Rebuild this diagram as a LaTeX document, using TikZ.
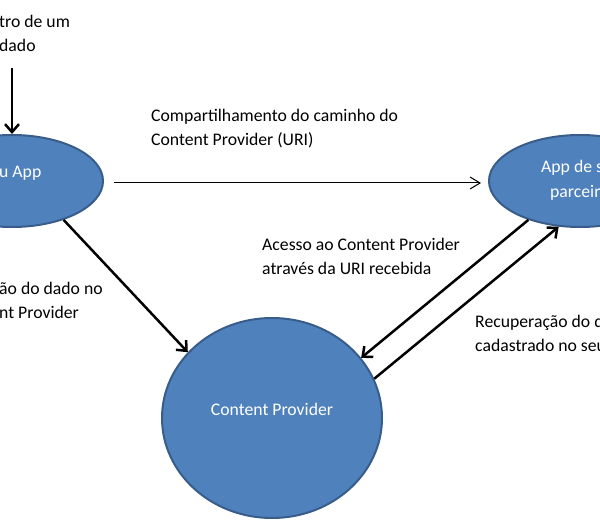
\documentclass[tikz,border=0pt]{standalone}
\usepackage{fontspec}
\setmainfont{Carlito}
\usetikzlibrary{shapes.geometric,arrows.meta}
\definecolor{azul}{HTML}{4F81BD}
\definecolor{bordaazul}{HTML}{385D8A}
\begin{document}
\begin{tikzpicture}[x=1pt, y=-1pt,
    bolha/.style={ellipse, draw=bordaazul, line width=2pt, fill=azul, inner sep=0pt},
    texto/.style={anchor=base west, inner sep=0pt, align=left, font=\fontsize{17.7}{24}\selectfont},
    seta/.style={line width=2.5pt, -{Straight Barb[length=8pt, width=14pt]}},
    setafina/.style={line width=1pt, -{Straight Barb[length=10pt, width=12pt]}}]
    \useasboundingbox (0,0) rectangle (600,524);
    \clip (0,0) rectangle (600,524);
    \node[bolha, minimum width=182pt, minimum height=92pt] (app) at (12,181) {};
    \node[bolha, minimum width=182pt, minimum height=92pt] (parceiro) at (580,181) {};
    \node[bolha, minimum width=220pt, minimum height=200pt] (cp) at (272,418) {};
    \node[texto, text=white] (apptexto) at (-1,178) {u App};
    \node[texto, text=white] (parceirotexto1) at (541,173) {App de s};
    \node[texto, text=white] (parceirotexto2) at (550,197) {parceir};
    \node[texto, text=white, anchor=base] (cptexto) at (272,415) {Content Provider};
    \coordinate (topo) at (12,68);
    \node[texto] (cadastro) at (-1,52) {tro de um\\dado};
    \node[texto] (compartilha) at (151,146) {Compartilhamento do caminho do\\Content Provider (URI)};
    \node[texto] (acesso) at (262,274) {Acesso ao Content Provider\\através da URI recebida};
    \node[texto] (recupera) at (475,351) {Recuperação do d\\cadastrado no seu};
    \node[texto] (insercao) at (-1,318) {ão do dado no\\nt Provider};
    \draw[seta] (topo) -- (app.north);
    \draw[setafina] ([shift={(10,2)}]app.east) -- ([shift={(-7,2)}]parceiro.west);
    \draw[seta] (app.-37) -- (cp.142);
    \draw[seta] (parceiro.217) -- (cp.34);
    \draw[seta] (cp.21) -- (parceiro.245);
\end{tikzpicture}
\end{document}
